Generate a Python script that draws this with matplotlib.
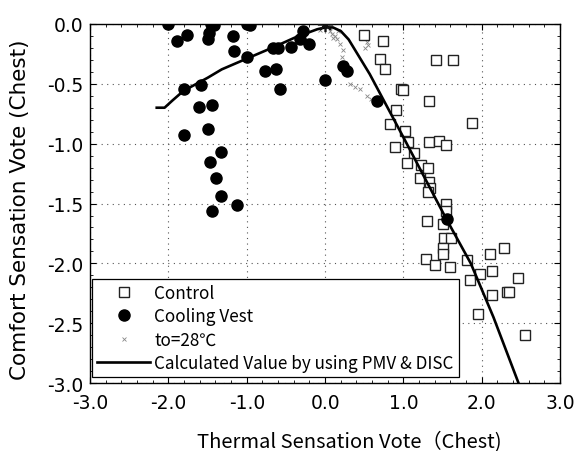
import matplotlib
matplotlib.use("Agg")
import matplotlib.pyplot as plt
from matplotlib.ticker import MultipleLocator, FormatStrFormatter

# ---- data ----
control_x = [0.49, 0.745, 0.70, 0.77, 1.41, 1.63, 0.97, 1.00, 1.32, 0.91, 0.83, 1.88,
             1.02, 0.89, 1.06, 1.33, 1.46, 1.54, 1.13, 1.05, 1.22, 1.31, 1.21, 1.33,
             1.34, 1.31, 1.54, 1.54, 1.30, 1.50, 1.52, 1.61, 1.50, 1.51, 1.29, 1.40,
             1.59, 1.81, 1.85, 1.98, 2.10, 2.13, 2.13, 2.28, 2.32, 2.35, 2.46, 1.95, 2.55]
control_y = [-0.095, -0.145, -0.29, -0.38, -0.305, -0.30, -0.54, -0.555, -0.64, -0.715, -0.835, -0.825,
             -0.895, -1.03, -0.99, -0.99, -0.98, -1.01, -1.075, -1.16, -1.18, -1.20, -1.29, -1.32,
             -1.37, -1.40, -1.50, -1.56, -1.65, -1.675, -1.79, -1.79, -1.875, -1.92, -1.96, -2.01,
             -2.03, -1.97, -2.14, -2.09, -1.92, -2.06, -2.26, -1.87, -2.24, -2.24, -2.12, -2.42, -2.60]

vest_x = [-2.00, -1.46, -1.42, -1.00, -0.96, -1.89, -1.76, -1.48, -1.49, -1.18, -1.165, -1.00,
          -0.77, -0.66, -0.60, -0.63, -0.57, -0.43, -0.28, -0.32, -0.21, 0.00, 0.23, 0.28,
          0.665, 1.55, -1.80, -1.585, -1.61, -1.44, -1.80, -1.50, -1.33, -1.47, -1.39, -1.33,
          -1.44, -1.13]
vest_y = [0.00, 0.00, -0.01, 0.00, -0.01, -0.145, -0.095, -0.075, -0.13, -0.10, -0.23, -0.28,
          -0.395, -0.205, -0.205, -0.375, -0.54, -0.195, -0.06, -0.13, -0.17, -0.465, -0.353, -0.395,
          -0.645, -1.625, -0.54, -0.51, -0.69, -0.68, -0.93, -0.88, -1.07, -1.15, -1.29, -1.44,
          -1.56, -1.51]

t28_x = [-0.06, -0.03, 0.03, 0.06, 0.085, 0.12, 0.15, 0.19, 0.23, 0.21, 0.26, 0.32, 0.38,
         0.45, 0.53, 0.58, 0.51, 0.55, 0.53, 0.16, 0.10]
t28_y = [-0.055, -0.02, -0.03, -0.06, -0.083, -0.10, -0.125, -0.167, -0.22, -0.28, -0.33, -0.50, -0.525,
         -0.54, -0.60, -0.63, -0.20, -0.18, -0.15, -0.06, -0.12]

neutral_x = [0.0]
neutral_y = [0.0]

calc_x = [-2.15, -2.05, -1.95, -1.81, -1.50, -1.32, -1.00, -0.66, -0.37, -0.10, 0.00, 0.10,
          0.20, 0.30, 0.57, 1.01, 1.54, 1.86, 2.15, 2.47]
calc_y = [-0.70, -0.70, -0.64, -0.56, -0.45, -0.38, -0.29, -0.195, -0.11, -0.045, -0.03, -0.03,
          -0.06, -0.13, -0.42, -0.96, -1.62, -2.00, -2.45, -3.00]

xlabel = "Thermal Sensation Vote\uff08Chest)"
ylabel = "Comfort Sensation Vote (Chest)"
legend_labels = ["Control", "Cooling Vest", "to=28\u2103", "Calculated Value by using PMV & DISC"]

# ---- figure ----
plt.rcParams['font.family'] = ['DejaVu Sans', 'Noto Sans CJK JP']
fig = plt.figure(figsize=(5.78, 4.52), dpi=100)
ax = fig.add_axes([0.156, 0.150, 0.813, 0.795])

ax.plot(calc_x, calc_y, color='black', lw=1.9, zorder=3, label=legend_labels[3])
ax.plot(control_x, control_y, ls='none', marker='s', ms=7.5, mfc='white', mec='#222222',
        mew=1.0, zorder=2, label=legend_labels[0])
ax.plot(vest_x, vest_y, ls='none', marker='o', ms=8, mfc='black', mec='black',
        zorder=4, label=legend_labels[1])
ax.plot(t28_x, t28_y, ls='none', marker='x', ms=2.5, mew=0.6, color='#888888',
        zorder=1, label=legend_labels[2])
ax.plot(neutral_x, neutral_y, ls='none', marker=(8, 2, 0), ms=11, mew=1.2, color='#111111', zorder=5)

ax.set_xlim(-3, 3)
ax.set_ylim(-3, 0)
ax.xaxis.set_major_locator(MultipleLocator(1.0))
ax.yaxis.set_major_locator(MultipleLocator(0.5))
ax.xaxis.set_minor_locator(MultipleLocator(0.2))
ax.yaxis.set_minor_locator(MultipleLocator(0.1))
ax.xaxis.set_major_formatter(FormatStrFormatter('%.1f'))
ax.yaxis.set_major_formatter(FormatStrFormatter('%.1f'))
ax.tick_params(which='both', direction='in', top=True, right=True, labelsize=13.5, colors='black')
ax.tick_params(which='major', length=4, width=0.8)
ax.tick_params(axis='x', which='major', pad=7)
ax.tick_params(axis='y', which='major', pad=5)
ax.tick_params(which='minor', length=2.5, width=0.6)
ax.grid(True, which='major', ls=(0, (1, 4)), color='#555555', lw=0.8)
for s in ax.spines.values():
    s.set_linewidth(1.0)

ax.set_xlabel(xlabel, fontsize=14.5, family=['Noto Sans CJK JP', 'DejaVu Sans'])
ax.xaxis.set_label_coords(0.551, -0.163)
ax.xaxis.label.set_va('center')
ax.set_ylabel(ylabel, fontsize=15.5)
ax.yaxis.set_label_coords(-0.128, 0.485)

handles, labels = ax.get_legend_handles_labels()
order = [1, 2, 3, 0]
leg = ax.legend([handles[i] for i in order], [labels[i] for i in order],
                loc='lower left', bbox_to_anchor=(0.004, 0.018), frameon=True, fancybox=False,
                edgecolor='black', framealpha=1, handlelength=3.1,
                handletextpad=0.25, labelspacing=0.3, borderpad=0.3, borderaxespad=0,
                prop={'family': ['Noto Sans CJK JP', 'DejaVu Sans'], 'size': 12.3})
leg.get_frame().set_linewidth(0.9)
leg.set_zorder(6)

fig.savefig("out.png", dpi=100)
